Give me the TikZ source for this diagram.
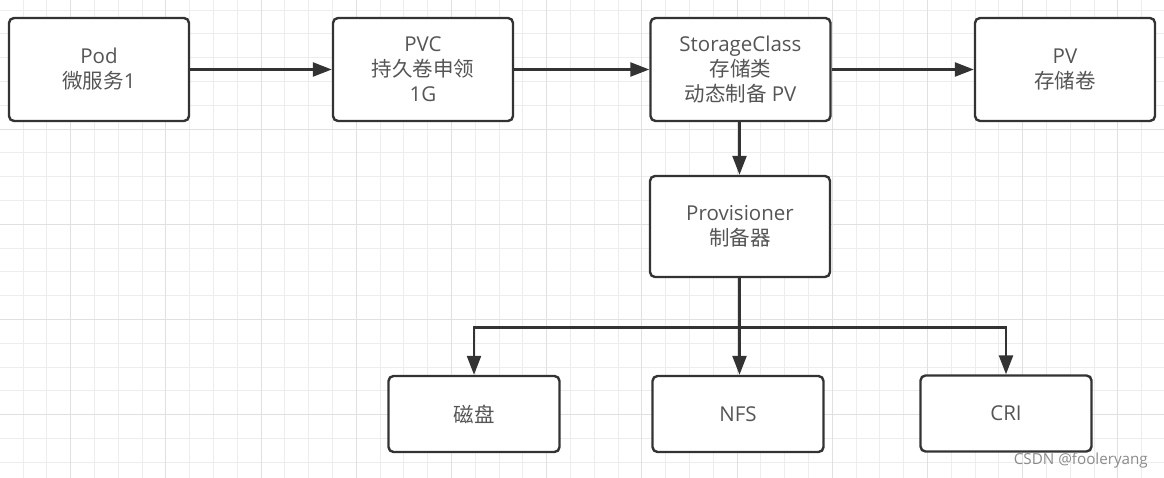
\documentclass[tikz,border=0pt]{standalone}
\usepackage{fontspec}
\newfontfamily\cjk{Noto Sans CJK SC}
\newfontfamily\lat{Open Sans}
\newcommand{\zh}[1]{{\cjk #1}}
\usetikzlibrary{arrows.meta}
\definecolor{gridminor}{HTML}{EDEDED}
\definecolor{gridmajor}{HTML}{E0E0E0}
\definecolor{edge}{HTML}{333333}
\definecolor{txt}{HTML}{555555}
\definecolor{wm}{HTML}{8C8C8C}
\tikzset{
  box/.style={draw=edge, line width=2.4pt, rounded corners=5pt, fill=white,
    minimum width=180pt, minimum height=103pt, inner sep=0pt, align=center,
    text=txt, font=\lat\fontsize{20.5}{25}\selectfont},
  smallbox/.style={box, minimum width=171pt, minimum height=76pt},
  conn/.style={draw=edge, line width=2.4pt, -{Triangle[length=19pt,width=14pt]}},
  plain/.style={draw=edge, line width=2.4pt}
}
\begin{document}
\begin{tikzpicture}[x=1pt,y=-1pt]
\useasboundingbox (0,0) rectangle (1164,478);
\fill[white] (0,0) rectangle (1164,478);
% grid
\foreach \i in {-11,...,38} {
  \draw[gridminor, line width=1pt] ({261+23.8*\i},0) -- ({261+23.8*\i},478);
}
\foreach \j in {-9,...,10} {
  \draw[gridminor, line width=1pt] (0,{224.3+23.8*\j}) -- (1164,{224.3+23.8*\j});
}
\foreach \i in {-2,...,9} {
  \draw[gridmajor, line width=1pt] ({261+95.2*\i},0) -- ({261+95.2*\i},478);
}
\foreach \j in {-1,...,2} {
  \draw[gridmajor, line width=1pt] (0,{224.3+95.2*\j}) -- (1164,{224.3+95.2*\j});
}
% nodes
\node[box] (pod) at (99,69.5) {Pod\\\zh{微服务}1};
\node[box] (pvc) at (423,69.5) {PVC\\\zh{持久卷申领}\\1G};
\node[box] (sc) at (740.5,69.5) {StorageClass\\\zh{存储类}\\\zh{动态制备} PV};
\node[box] (pv) at (1065,69.5) {PV\\\zh{存储卷}};
\node[box, minimum height=101pt] (prov) at (740,226.5) {Provisioner\\\zh{制备器}};
\node[smallbox] (disk) at (474,414) {\zh{磁盘}};
\node[smallbox] (nfs) at (738,414) {NFS};
\node[smallbox] (cri) at (1006,413.5) {CRI};
\coordinate (br) at (739.5,327.5);
% connectors
\draw[conn] (pod) -- (pvc);
\draw[conn] (pvc) -- (sc);
\draw[conn] (sc) -- (pv);
\draw[conn] (sc.south -| br) -- (prov.north -| br);
\draw[plain] (prov.south -| br) -- (br);
\draw[conn] (br) -- (nfs.north -| br);
\draw[conn] (br) -| (disk.north);
\draw[conn] (br) -| (cri.north);
% watermark
\node[anchor=base east, inner sep=0pt, text=wm, font=\lat\fontsize{15.2}{18}\selectfont] (wmark) at (1148,464) {CSDN @fooleryang};
\end{tikzpicture}
\end{document}
